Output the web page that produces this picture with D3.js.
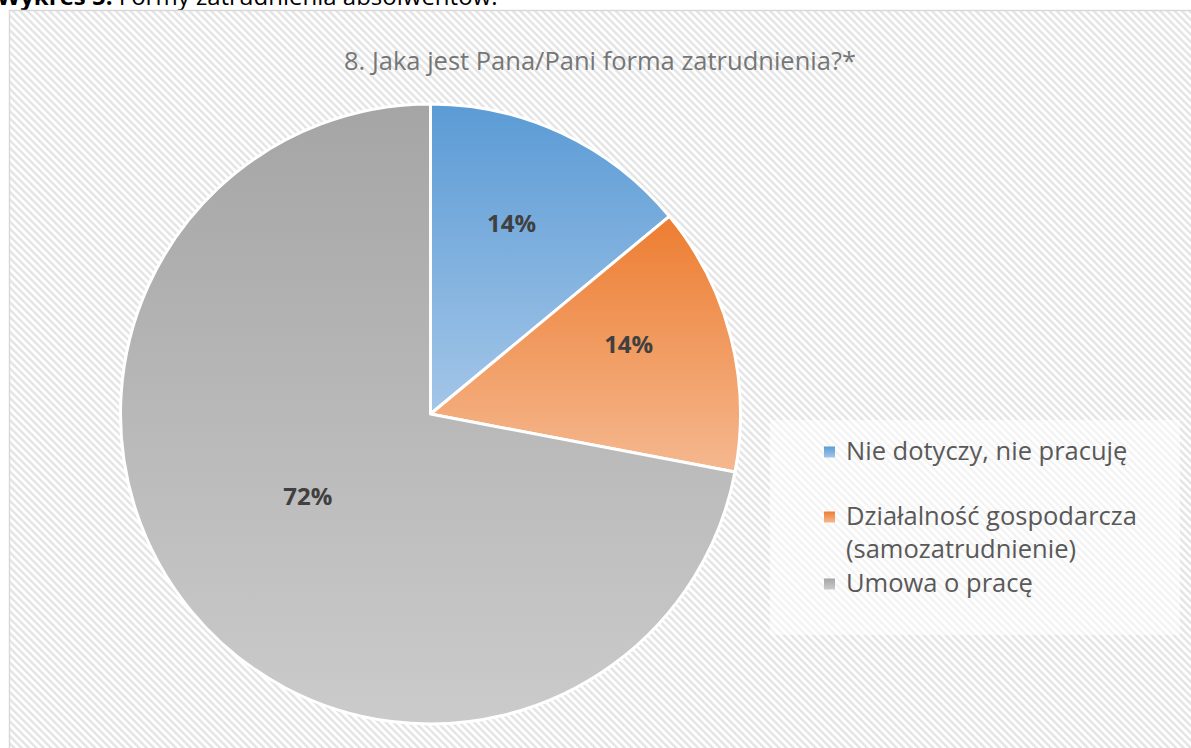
<!DOCTYPE html>
<html><head><meta charset="utf-8">
<script src="https://cdn.jsdelivr.net/npm/d3@7"></script>
<style>html,body{margin:0;padding:0;background:#fff;overflow:hidden}</style>
</head><body>
<svg id="chart" width="1191" height="748"></svg>
<script>
const categories = ["Nie dotyczy, nie pracuję", "Działalność gospodarcza (samozatrudnienie)", "Umowa o pracę"];
const values = [14, 14, 72];
const labels = ["14%", "14%", "72%"];
const legendLines = [["Nie dotyczy, nie pracuję"], ["Działalność gospodarcza", "(samozatrudnienie)"], ["Umowa o pracę"]];
const title = "8. Jaka jest Pana/Pani forma zatrudnienia?*";
const caption = ["Wykres 5.", " Formy zatrudnienia absolwentów."];

const topColors = ["#5b9bd5", "#ed7d31", "#a5a5a5"];
const bottomColors = ["#a4c6e8", "#f5b88f", "#cbcbcb"];
// label placement nudges (style only)
const labelNudge = [[-6,-6],[0,-19],[-8,-12]];

const svg = d3.select("#chart");
const W = 1191, H = 748;
const defs = svg.append("defs");

const pat = defs.append("pattern").attr("id","hatch").attr("patternUnits","userSpaceOnUse")
  .attr("width",5.2).attr("height",5.2).attr("patternTransform","rotate(-45)");
pat.append("rect").attr("width",5.2).attr("height",5.2).attr("fill","#ffffff");
pat.append("rect").attr("x",0).attr("y",0).attr("width",2.4).attr("height",5.2).attr("fill","#e4e4e4");

categories.forEach((c,i)=>{
  const g = defs.append("linearGradient").attr("id","g"+i).attr("x1",0).attr("y1",0).attr("x2",0).attr("y2",1);
  g.append("stop").attr("offset","0%").attr("stop-color",topColors[i]);
  g.append("stop").attr("offset","100%").attr("stop-color",bottomColors[i]);
});

// caption (partially cut at top, as in the reference)
const cap = svg.append("text").attr("x",-3).attr("y",5).attr("font-family","Open Sans, sans-serif")
  .attr("font-size",24).attr("fill","#000");
cap.append("tspan").attr("font-weight","bold").text(caption[0]);
cap.append("tspan").text(caption[1]);

// chart area
svg.append("rect").attr("x",9.5).attr("y",10.5).attr("width",W).attr("height",H)
  .attr("fill","url(#hatch)").attr("stroke","#d9d9d9").attr("stroke-width",1.5);

svg.append("text").attr("x",600).attr("y",70).attr("text-anchor","middle")
  .attr("font-family","Open Sans, sans-serif").attr("font-size",25.5).attr("fill","#767676")
  .text(title);

// legend box
svg.append("rect").attr("x",770).attr("y",420).attr("width",410).attr("height",215)
  .attr("fill","#ffffff").attr("fill-opacity",0.55);

const cx = 430.5, cy = 414, r = 310;
const pie = d3.pie().sort(null).value(d=>d);
const arcs = pie(values);
const arc = d3.arc().innerRadius(0).outerRadius(r);
const gp = svg.append("g").attr("transform",`translate(${cx},${cy})`);
gp.selectAll("path").data(arcs).join("path")
  .attr("d",arc).attr("fill",(d,i)=>`url(#g${i})`)
  .attr("stroke","#fff").attr("stroke-width",3).attr("stroke-linejoin","round");

gp.selectAll("text").data(arcs).join("text")
  .attr("transform",(d,i)=>{
    const f = (d.endAngle-d.startAngle) > Math.PI ? 0.48 : 0.66;
    const a = d3.arc().innerRadius(r*f).outerRadius(r*f);
    const [x,y] = a.centroid(d);
    return `translate(${x+labelNudge[i][0]},${y+labelNudge[i][1]})`;
  })
  .attr("text-anchor","middle").attr("dy","0.36em")
  .attr("font-family","Open Sans, sans-serif").attr("font-weight","bold").attr("font-size",24)
  .attr("fill","#404040").text((d,i)=>labels[i]);

// legend
const legendY = [452, 517, 584];
const lg = svg.append("g");
legendLines.forEach((lines,i)=>{
  lg.append("rect").attr("x",824).attr("y",legendY[i]-5.5).attr("width",11).attr("height",11)
    .attr("fill",`url(#g${i})`);
  const t = lg.append("text").attr("x",846).attr("y",legendY[i]+8)
    .attr("font-family","Open Sans, sans-serif").attr("font-size",25.5).attr("fill","#595959");
  lines.forEach((l,j)=>t.append("tspan").attr("x",846).attr("dy",j?33:0).text(l));
});
</script>
</body></html>
